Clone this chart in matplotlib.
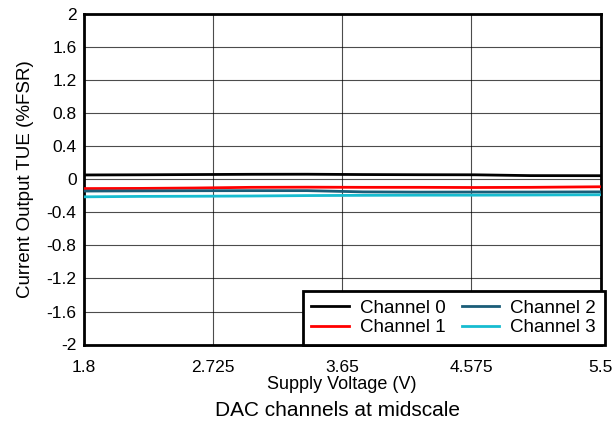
import matplotlib
matplotlib.use("Agg")
import matplotlib.pyplot as plt
import numpy as np

plt.rcParams['font.family'] = ['Liberation Sans', 'DejaVu Sans']

voltage = [1.8, 2.2, 2.6, 3.0, 3.4, 3.8, 4.2, 4.6, 5.0, 5.5]
ch0 = [0.055, 0.057, 0.060, 0.063, 0.064, 0.060, 0.058, 0.057, 0.047, 0.046]
ch1 = [-0.110, -0.108, -0.103, -0.095, -0.093, -0.095, -0.095, -0.097, -0.095, -0.088]
ch2 = [-0.140, -0.138, -0.136, -0.135, -0.135, -0.150, -0.153, -0.152, -0.152, -0.150]
ch3 = [-0.210, -0.205, -0.203, -0.200, -0.195, -0.192, -0.190, -0.190, -0.188, -0.185]

series = [("Channel 0", ch0, "#000000"),
          ("Channel 1", ch1, "#ff0000"),
          ("Channel 2", ch2, "#1a5d78"),
          ("Channel 3", ch3, "#17bcd0")]

xticks = [1.8, 2.725, 3.65, 4.575, 5.5]
xticklabels = ["1.8", "2.725", "3.65", "4.575", "5.5"]
yticks = [-2, -1.6, -1.2, -0.8, -0.4, 0, 0.4, 0.8, 1.2, 1.6, 2]
yticklabels = ["-2", "-1.6", "-1.2", "-0.8", "-0.4", "0", "0.4", "0.8", "1.2", "1.6", "2"]

fig = plt.figure(figsize=(6.16, 4.29), dpi=100)
ax = fig.add_axes([83.5 / 616, 1 - 344.5 / 429, (600.5 - 83.5) / 616, (344.5 - 14.5) / 429])

for label, vals, color in series:
    ax.plot(voltage, vals, color=color, lw=2, label=label, zorder=3)

ax.set_xlim(1.8, 5.5)
ax.set_ylim(-2, 2)
ax.set_xticks(xticks)
ax.set_xticklabels(xticklabels)
ax.set_yticks(yticks)
ax.set_yticklabels(yticklabels)
ax.tick_params(length=0, labelsize=12.5, pad=5)
ax.tick_params(axis="x", pad=11)
ax.grid(True, color="#000000", lw=0.8, alpha=0.7)
for s in ax.spines.values():
    s.set_linewidth(2)

ax.set_xlabel("Supply Voltage (V)", fontsize=13, labelpad=1)
ax.set_ylabel("Current Output TUE (%FSR)", fontsize=13.5, labelpad=9)

leg = ax.legend(loc="lower right", ncol=2, fontsize=13.5, frameon=True, fancybox=False,
                borderaxespad=0, handlelength=2.0, columnspacing=0.85, handletextpad=0.6,
                labelspacing=0.12, borderpad=0.45, bbox_to_anchor=(1.008, 0.0))
leg.get_frame().set_edgecolor("black")
leg.get_frame().set_linewidth(2)
leg.get_frame().set_alpha(1)

fig.text(0.548, 1 - 410 / 429, "DAC channels at midscale", ha="center", va="center", fontsize=15)

fig.savefig("out.png", dpi=100)
